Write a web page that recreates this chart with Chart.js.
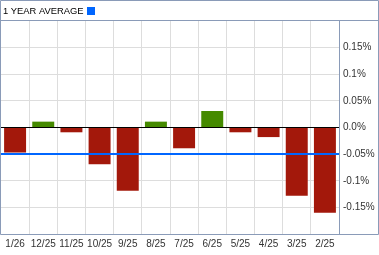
<!DOCTYPE html>
<html>
<head>
<meta charset="utf-8">
<script src="https://cdn.jsdelivr.net/npm/chart.js@4/dist/chart.umd.min.js"></script>
<style>
  html, body { margin: 0; padding: 0; background: #fff; }
  #wrap { position: relative; width: 379px; height: 255px; }
</style>
</head>
<body>
<div id="wrap"><canvas id="chart" width="379" height="255"></canvas></div>
<script>
// monthly returns (%) and the 1 year average
const months = ['1/26', '12/25', '11/25', '10/25', '9/25', '8/25', '7/25', '6/25', '5/25', '4/25', '3/25', '2/25'];
const returns = [-0.047, 0.011, -0.009, -0.069, -0.119, 0.011, -0.039, 0.031, -0.009, -0.018, -0.128, -0.16];
const yearAverage = -0.049;
const yTicks = [-0.15, -0.1, -0.05, 0, 0.05, 0.1, 0.15];

const RED = '#a3180b';
const GREEN = '#458a00';
const BLUE = '#0066ff';
const FRAME = '#8a9bb8';

// frame, header and average line
const framePlugin = {
    id: 'frame',
    afterDatasetsDraw(chart) {
        const { ctx, chartArea, scales } = chart;
        const y = Math.round(scales.y.getPixelForValue(yearAverage));
        ctx.save();
        ctx.fillStyle = BLUE;
        ctx.fillRect(chartArea.left, y - 1, chartArea.right - chartArea.left, 2);
        ctx.restore();
    },
    afterDraw(chart) {
        const { ctx, chartArea } = chart;
        const bottom = Math.round(chartArea.bottom);
        const right = Math.round(chartArea.right);
        ctx.save();
        ctx.strokeStyle = FRAME;
        ctx.lineWidth = 1;
        ctx.beginPath();
        ctx.moveTo(0.5, bottom + 0.5);
        ctx.lineTo(0.5, 0.5);
        ctx.lineTo(378.5, 0.5);
        ctx.lineTo(378.5, bottom + 0.5);
        ctx.lineTo(0.5, bottom + 0.5);
        ctx.moveTo(0.5, 20.5);
        ctx.lineTo(378.5, 20.5);
        ctx.moveTo(right + 0.5, 20.5);
        ctx.lineTo(right + 0.5, bottom + 0.5);
        ctx.stroke();

        ctx.fillStyle = '#000';
        ctx.font = '9.4px "Liberation Sans", Arial, sans-serif';
        ctx.textBaseline = 'alphabetic';
        ctx.fillText('1 YEAR AVERAGE', 3, 14);
        ctx.fillStyle = BLUE;
        ctx.fillRect(87, 7, 8, 8);
        ctx.restore();
    }
};

new Chart(document.getElementById('chart'), {
    type: 'bar',
    data: {
        labels: months,
        datasets: [{
            data: returns,
            backgroundColor: returns.map(v => v >= 0 ? GREEN : RED),
            borderWidth: 0,
            categoryPercentage: 1,
            barPercentage: 0.78
        }]
    },
    options: {
        responsive: false,
        animation: false,
        devicePixelRatio: 1,
        layout: { padding: { top: 21, left: 1, right: 0, bottom: 0 } },
        plugins: {
            legend: { display: false },
            tooltip: { enabled: false }
        },
        scales: {
            x: {
                offset: true,
                grid: { offset: true, color: '#dddddd', drawTicks: false },
                border: { display: false },
                ticks: {
                    color: '#333',
                    padding: 4,
                    maxRotation: 0,
                    autoSkip: false,
                    font: { family: '"Liberation Sans Narrow", "Liberation Sans", Arial', size: 10 }
                },
                afterFit(scale) { scale.height = 21; }
            },
            y: {
                position: 'right',
                min: -0.2,
                max: 0.2,
                afterBuildTicks(scale) {
                    scale.ticks = yTicks.map(v => ({ value: v }));
                },
                grid: {
                    color: ctx => ctx.tick && ctx.tick.value === 0 ? '#000000' : '#dddddd',
                    drawTicks: false
                },
                border: { display: false },
                ticks: {
                    color: '#333',
                    padding: 4,
                    crossAlign: 'near',
                    font: { family: '"Liberation Sans", Arial', size: 10 },
                    callback: v => {
                        const s = Math.abs(v) < 1e-9 ? '0.0' : String(Math.round(v * 100) / 100);
                        return s + '%';
                    }
                },
                afterFit(scale) { scale.width = 40; }
            }
        }
    },
    plugins: [framePlugin]
});
</script>
</body>
</html>
